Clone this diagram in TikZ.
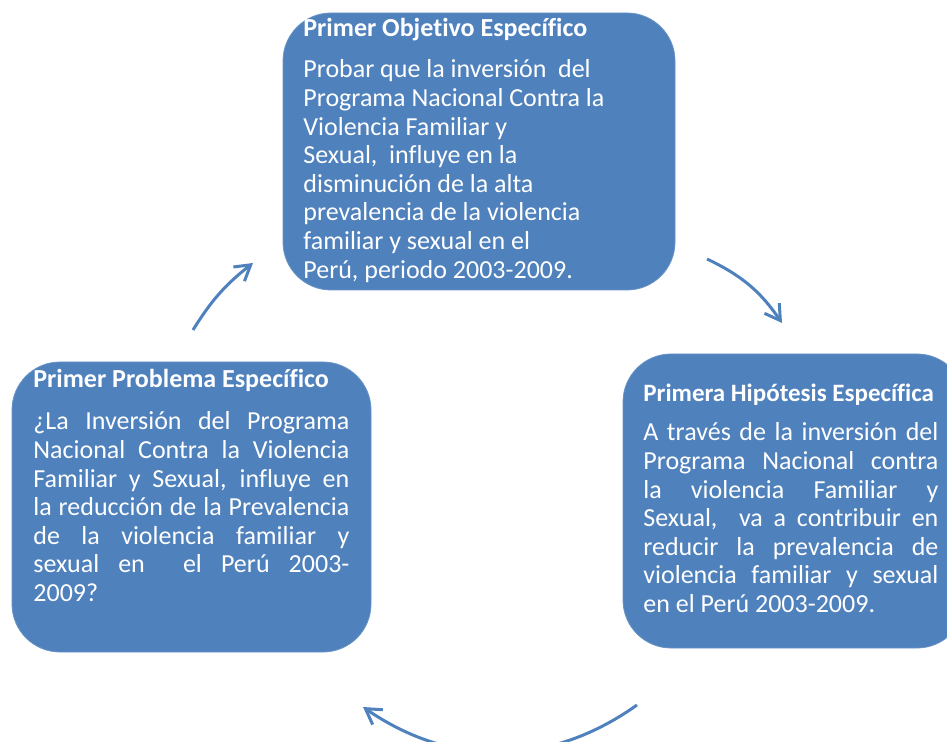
\documentclass[tikz,border=0pt]{standalone}
\usepackage{fontspec}
\setmainfont{Carlito}[Ligatures=NoCommon]
\usetikzlibrary{arrows.meta}
\definecolor{azulcaja}{HTML}{4F81BD}
\tikzset{
  caja/.style={fill=azulcaja, draw=azulcaja!85!white, rounded corners=24pt, inner sep=0pt},
  titulo/.style={anchor=base west, inner sep=0pt, text=white, font=\fontsize{13}{14.3}\selectfont\bfseries},
  cuerpo/.style={anchor=base west, inner sep=0pt, text=white, font=\fontsize{13}{14.3}\selectfont},
  flecha/.style={draw=azulcaja, line width=1.5pt, -{Straight Barb[length=7.5pt,width=9pt]}}
}
% una linea justificada
\newcommand{\linea}[1]{\makebox[\linewidth][s]{#1}\par}
\begin{document}
\begin{tikzpicture}[x=0.5pt, y=-0.5pt]
                \useasboundingbox (0, 0) rectangle (947, 742);
                \clip (0, 0) rectangle (947, 742);

                % objetivo
                \node[caja, minimum width=196pt, minimum height=138.5pt] (objetivo) at (479, 151.5) {};
                \node[titulo] (objetivotit) at (303, 37) {Primer Objetivo Específico};
                \node[cuerpo] (objetivotxt) at (303, 78) {\parbox[t]{165pt}{\parindent=0pt
                    Probar que la inversión\ \ del\par
                    Programa Nacional Contra la\par
                    Violencia Familiar y\par
                    Sexual,\ \ influye en la\par
                    disminución de la alta\par
                    prevalencia de la violencia\par
                    familiar y sexual en el\par
                    Perú, periodo 2003-2009.}};

                % problema
                \node[caja, minimum width=179.5pt, minimum height=145pt] (problema) at (191.5, 507) {};
                \node[titulo] (problematit) at (33, 388) {Primer Problema Específico};
                \node[cuerpo] (problematxt) at (33, 430) {\parbox[t]{158pt}{\parindent=0pt
                    \linea{¿La Inversión del Programa}
                    \linea{Nacional Contra la Violencia}
                    \linea{Familiar y Sexual, influye en}
                    \linea{la reducción de la Prevalencia}
                    \linea{de la violencia familiar y}
                    \linea{sexual en\ \ el Perú 2003-}
                    2009?}};

                % hipotesis
                \node[caja, minimum width=171pt, minimum height=147pt] (hipotesis) at (794, 501) {};
                \node[titulo, font=\fontsize{12.5}{14.3}\selectfont\bfseries] (hipotesistit) at (643, 402) {Primera Hipótesis Específica};
                \node[cuerpo] (hipotesistxt) at (643, 441) {\parbox[t]{147.5pt}{\parindent=0pt
                    \linea{A través de la inversión del}
                    \linea{Programa Nacional contra}
                    \linea{la violencia Familiar y}
                    \linea{Sexual,\ \ va a contribuir en}
                    \linea{reducir la prevalencia de}
                    \linea{violencia familiar y sexual}
                    en el Perú 2003-2009.}};

                % flechas
                \coordinate (f1a) at (193, 330);
                \coordinate (f1b) at (253, 263);
                \coordinate (f2a) at (707, 259);
                \coordinate (f2b) at (782, 323);
                \coordinate (f3a) at (637, 705);
                \coordinate (f3b) at (363, 707);
                \draw[flecha] (f1a) to[bend left=10] (f1b);
                \draw[flecha] (f2a) to[bend left=15] (f2b);
                \draw[flecha] (f3a) to[bend left=35] (f3b);
            \end{tikzpicture}
\end{document}
